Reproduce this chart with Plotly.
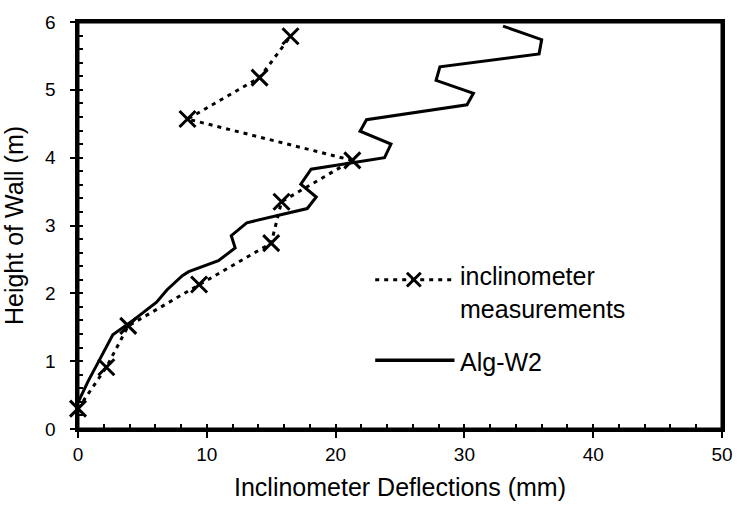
import plotly.graph_objects as go

# ---- data ----
incl_deflection = [0.0, 2.2, 3.9, 9.4, 15.0, 15.8, 21.3, 8.5, 14.1, 16.5]
incl_height = [0.30, 0.91, 1.52, 2.13, 2.74, 3.35, 3.96, 4.57, 5.18, 5.79]

alg_deflection = [0.0, 0.8, 1.7, 2.2, 2.7, 4.4, 6.1, 6.9, 8.1, 8.6, 10.9, 12.2, 11.9,
                  13.1, 17.8, 18.5, 17.3, 18.1, 23.8, 24.3, 21.9, 22.4, 30.2, 30.7,
                  27.8, 28.1, 35.8, 36.0, 33.0]
alg_height = [0.39, 0.71, 1.03, 1.22, 1.39, 1.62, 1.87, 2.05, 2.26, 2.32, 2.48, 2.67,
              2.85, 3.04, 3.25, 3.42, 3.61, 3.83, 4.00, 4.20, 4.39, 4.56, 4.78, 4.95,
              5.14, 5.34, 5.53, 5.74, 5.94]

x_range = [0, 50]
y_range = [0, 6]
series_names = ["inclinometer<br>measurements", "Alg-W2"]
x_title = "Inclinometer Deflections (mm)"
y_title = "Height of Wall (m)"

FONT = "Liberation Sans, Arial, sans-serif"
DOT = "4px,5px"

fig = go.Figure()
fig.add_trace(go.Scatter(
    x=alg_deflection, y=alg_height, mode="lines", name=series_names[1],
    line=dict(color="black", width=3), showlegend=False, cliponaxis=False))
fig.add_trace(go.Scatter(
    x=incl_deflection, y=incl_height, mode="lines+markers", name=series_names[0],
    line=dict(color="black", width=3, dash=DOT),
    marker=dict(symbol="x-thin", size=16, line=dict(color="black", width=3)),
    showlegend=False, cliponaxis=False))

# ---- plot frame + manual legend (decoration in paper coordinates) ----
shapes = [dict(type="rect", xref="paper", yref="paper", x0=0, x1=1, y0=0, y1=1,
               line=dict(color="black", width=3), fillcolor="rgba(0,0,0,0)", layer="above")]
annotations = []
leg_x0, leg_x1, leg_xm, leg_tx = 0.4615, 0.5846, 0.5215, 0.590
leg_y = [0.367, 0.169]
leg_ty = [0.336, 0.164]
hx, hy = 7 / 650, 7 / 414  # half-size of the legend cross in paper units
shapes.append(dict(type="line", xref="paper", yref="paper", x0=leg_x0, x1=leg_x1,
                   y0=leg_y[0], y1=leg_y[0], line=dict(color="black", width=3, dash=DOT)))
for sgn in (1, -1):
    shapes.append(dict(type="line", xref="paper", yref="paper",
                       x0=leg_xm - hx, x1=leg_xm + hx,
                       y0=leg_y[0] - sgn * hy, y1=leg_y[0] + sgn * hy,
                       line=dict(color="black", width=3)))
shapes.append(dict(type="line", xref="paper", yref="paper", x0=leg_x0, x1=leg_x1,
                   y0=leg_y[1], y1=leg_y[1], line=dict(color="black", width=3.5)))
for name, ty in zip(series_names, leg_ty):
    annotations.append(dict(text=name, xref="paper", yref="paper", x=leg_tx, y=ty,
                            xanchor="left", yanchor="middle", showarrow=False, align="left",
                            font=dict(family=FONT, size=25, color="black")))

fig.update_layout(
    width=745, height=516,
    margin=dict(l=78, r=17, t=15, b=87),
    paper_bgcolor="white", plot_bgcolor="white",
    font=dict(family=FONT, color="black"),
    shapes=shapes, annotations=annotations,
    showlegend=False,
)
fig.update_xaxes(
    range=x_range, tickmode="linear", tick0=0, dtick=10,
    showgrid=False, zeroline=False,
    showline=True, linecolor="black", linewidth=3, mirror=True,
    ticks="outside", ticklen=6, tickwidth=1.5, tickcolor="black",
    minor=dict(ticks="inside", dtick=2, tick0=0, ticklen=5, tickwidth=1.5,
               tickcolor="black", showgrid=False),
    tickfont=dict(family=FONT, size=19, color="black"),
    title=dict(text=x_title, font=dict(family=FONT, size=25, color="black")),
)
fig.update_yaxes(
    range=y_range, tickmode="linear", tick0=0, dtick=1,
    showgrid=False, zeroline=False,
    showline=True, linecolor="black", linewidth=3, mirror=True,
    ticks="outside", ticklen=5, tickwidth=1.5, tickcolor="black",
    minor=dict(ticks="inside", dtick=0.2, tick0=0, ticklen=5, tickwidth=1.5,
               tickcolor="black", showgrid=False),
    tickfont=dict(family=FONT, size=19, color="black"), ticksuffix="\u00a0\u00a0",
    title=dict(text=y_title, font=dict(family=FONT, size=25, color="black")),
)

fig.write_html("out.html")
